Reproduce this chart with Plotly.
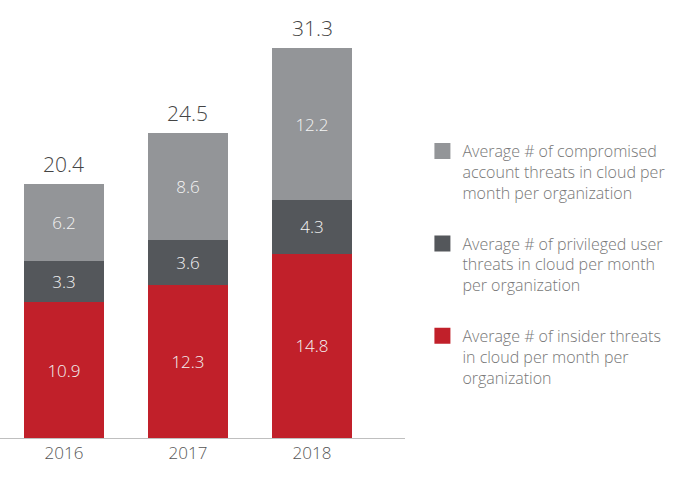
import plotly.graph_objects as go

years = ["2016", "2017", "2018"]
insider = [10.9, 12.3, 14.8]
privileged = [3.3, 3.6, 4.3]
compromised = [6.2, 8.6, 12.2]
totals = [20.4, 24.5, 31.3]

names = [
    "Average # of insider threats<br>in cloud per month per<br>organization",
    "Average # of privileged user<br>threats in cloud per month<br>per organization",
    "Average # of compromised<br>account threats in cloud per<br>month per organization",
]
colors = ["#c1202a", "#54575b", "#939598"]
FONT = "Open Sans"

fig = go.Figure()
for vals, name, col, rank in zip([insider, privileged, compromised], names, colors, [3, 2, 1]):
    fig.add_trace(go.Bar(
        x=years, y=vals, name=name, marker=dict(color=col, line=dict(width=0)),
        text=[f"{v:.1f}" for v in vals], textposition="inside", insidetextanchor="middle",
        textangle=0, textfont=dict(family=FONT, size=17, color="#f4f4f4", weight=300),
        showlegend=False, legendgroup=name, hoverinfo="skip",
    ))
    # legend entry with a larger square swatch
    fig.add_trace(go.Scatter(
        x=[None], y=[None], mode="markers", name=name, legendgroup=name, legendrank=rank,
        marker=dict(symbol="square", size=20, color=col), showlegend=True,
    ))

# total labels above each stack (category index positions on the category axis)
for i, tot in enumerate(totals):
    fig.add_annotation(
        x=i, y=tot, xref="x", yref="y", text=f"{tot:.1f}", showarrow=False,
        yanchor="bottom", yshift=4,
        font=dict(family=FONT, size=21, color="#444444", weight=300),
    )

fig.update_layout(
    width=687, height=487,
    margin=dict(l=0, r=282, t=2, b=49),
    barmode="stack", bargap=0.355,
    plot_bgcolor="white", paper_bgcolor="white",
    font=dict(family=FONT, weight=300),
    xaxis=dict(type="category", range=[-0.516, 2.75], showline=True, linecolor="#bfbfbf",
               linewidth=1, ticks="",
               tickfont=dict(family=FONT, size=17, color="#555555", weight=300),
               fixedrange=True),
    yaxis=dict(range=[0, 35], visible=False, showgrid=False),
    legend=dict(x=1.043, y=0.697, xanchor="left", yanchor="top",
                traceorder="grouped", tracegroupgap=27, valign="top",
                font=dict(family=FONT, size=16, color="#777777", weight=300),
                itemsizing="trace", itemwidth=30),
    showlegend=True,
)

fig.write_html("out.html", post_script="document.body.style.margin='0';",
               config={"displayModeBar": False})
